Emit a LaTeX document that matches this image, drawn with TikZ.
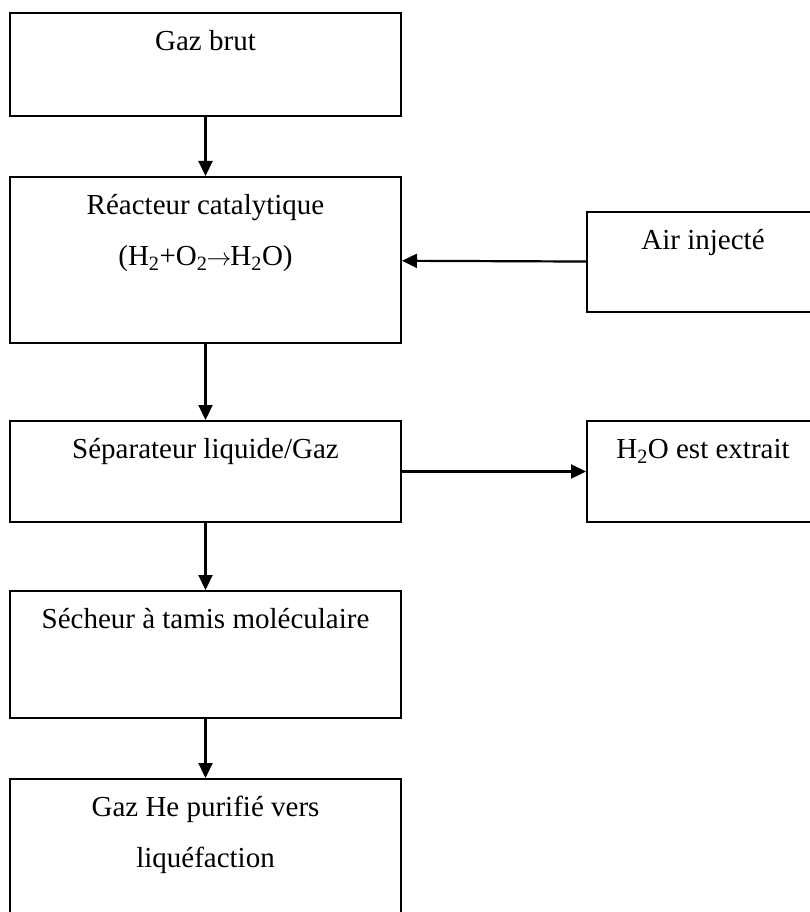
\documentclass[tikz,border=0pt]{standalone}
\usepackage{fontspec}
\setmainfont{Liberation Serif}
\usetikzlibrary{positioning,arrows.meta}
\newcommand{\haut}{\rule{0pt}{38.5pt}}
\begin{document}
\begin{tikzpicture}[x=1pt, y=-1pt,
	boite/.style = {draw, line width=2pt, rectangle, inner sep=0pt, minimum width=391pt},
	lbl/.style = {inner sep=0pt, align=center, font=\fontsize{29}{51}\selectfont},
	fleche/.style = {line width=2.2pt, -{Triangle[length=15pt, width=14pt]}}]
		\useasboundingbox (0,0) rectangle (809,912);
		% Boites
		\node[boite, minimum height=103pt] (brut) at (205.5,64.5) {};
		\node[boite, minimum height=166pt] (reacteur) at (205.5,260) {};
		\node[boite, minimum width=232pt, minimum height=100pt] (air) at (703,262) {};
		\node[boite, minimum height=101pt] (separateur) at (205.5,471.5) {};
		\node[boite, minimum width=232pt, minimum height=101pt] (extrait) at (703,471.5) {};
		\node[boite, minimum height=127pt] (secheur) at (205.5,654.5) {};
		\node[boite, minimum height=135pt] (helium) at (205.5,846.5) {};
		% Textes
		\node[lbl, below=0pt of brut.north] (tbrut) {\haut Gaz brut};
		\node[lbl, below=0pt of reacteur.north] (treacteur) {\haut Réacteur catalytique\\(H\textsubscript{2}+O\textsubscript{2}\kern-1pt$\rightarrow$\kern-1ptH\textsubscript{2}O)};
		\node[lbl, below=0pt of air.north] (tair) {\haut Air injecté};
		\node[lbl, below=0pt of separateur.north] (tseparateur) {\haut Séparateur liquide/Gaz};
		\node[lbl, below=0pt of extrait.north] (textrait) {\haut H\textsubscript{2}O est extrait};
		\node[lbl, below=0pt of secheur.north] (tsecheur) {\haut Sécheur à tamis moléculaire};
		\node[lbl, below=0pt of helium.north] (thelium) {\haut Gaz He purifié vers\\liquéfaction};
		% Fleches
		\draw[fleche] (brut) -- (reacteur);
		\draw[fleche] (air) -- (reacteur);
		\draw[fleche] (reacteur) -- (separateur);
		\draw[fleche] (separateur) -- (extrait);
		\draw[fleche] (separateur) -- (secheur);
		\draw[fleche] (secheur) -- (helium);
\end{tikzpicture}
\end{document}
